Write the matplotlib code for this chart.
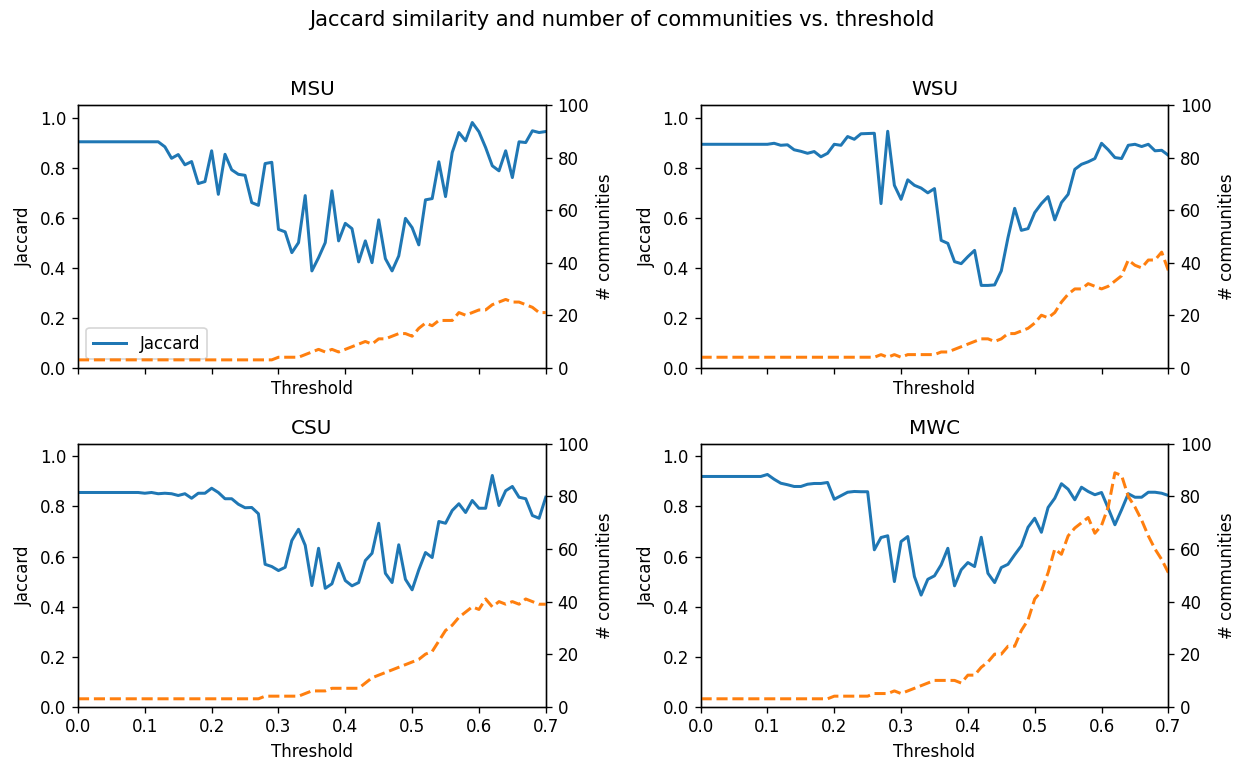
import numpy as np
import matplotlib
matplotlib.use("Agg")
import matplotlib.pyplot as plt

thresholds = np.linspace(0.0, 0.7, 71)

msu_jaccard = [0.903] * 13 + [
    0.883, 0.837, 0.852, 0.811, 0.824, 0.736, 0.744, 0.867, 0.693, 0.853,
    0.791, 0.773, 0.769, 0.660, 0.649, 0.816, 0.821, 0.553, 0.543, 0.460,
    0.500, 0.688, 0.387, 0.440, 0.500, 0.707, 0.507, 0.577, 0.556, 0.423,
    0.507, 0.420, 0.591, 0.436, 0.387, 0.447, 0.597, 0.560, 0.491, 0.671,
    0.676, 0.823, 0.684, 0.860, 0.940, 0.907, 0.980, 0.943, 0.880, 0.807,
    0.787, 0.867, 0.760, 0.903, 0.900, 0.947, 0.940, 0.944]
msu_comm = [3] * 30 + [
    4, 4, 4, 4, 5, 6, 7, 6, 7, 6, 7, 8, 9, 10, 9, 11, 11, 12, 13, 13,
    12, 15, 17, 16, 18, 18, 18, 21, 20, 21, 22, 22, 24, 25, 26, 25, 25, 24,
    23, 21, 21]

wsu_jaccard = [0.893] * 11 + [
    0.897, 0.889, 0.891, 0.871, 0.865, 0.857, 0.864, 0.843, 0.857, 0.893,
    0.889, 0.924, 0.913, 0.935, 0.936, 0.937, 0.656, 0.945, 0.729, 0.673,
    0.751, 0.729, 0.718, 0.699, 0.716, 0.509, 0.497, 0.424, 0.416, 0.444,
    0.469, 0.329, 0.329, 0.331, 0.387, 0.520, 0.637, 0.549, 0.556, 0.620,
    0.656, 0.684, 0.591, 0.660, 0.693, 0.793, 0.813, 0.823, 0.836, 0.897,
    0.871, 0.840, 0.836, 0.889, 0.893, 0.884, 0.893, 0.867, 0.869, 0.849]
wsu_comm = [4] * 27 + [
    5, 4, 5, 4, 5, 5, 5, 5, 5, 6, 6, 7, 8, 9, 10, 11, 11, 10, 11, 13,
    13, 14, 15, 17, 20, 19, 21, 25, 28, 30, 30, 32, 31, 30, 31, 33, 35, 41,
    39, 38, 41, 41, 44, 37]

csu_jaccard = [0.856] * 10 + [
    0.853, 0.856, 0.851, 0.853, 0.851, 0.844, 0.851, 0.833, 0.853, 0.853,
    0.873, 0.856, 0.831, 0.831, 0.809, 0.795, 0.796, 0.771, 0.569, 0.560,
    0.544, 0.557, 0.664, 0.709, 0.645, 0.484, 0.633, 0.473, 0.491, 0.573,
    0.504, 0.483, 0.496, 0.584, 0.613, 0.733, 0.533, 0.496, 0.647, 0.509,
    0.467, 0.547, 0.616, 0.596, 0.740, 0.733, 0.784, 0.811, 0.776, 0.824,
    0.793, 0.793, 0.924, 0.804, 0.863, 0.880, 0.837, 0.831, 0.764, 0.753,
    0.837]
csu_comm = [3] * 28 + [4] * 6 + [5, 6, 6, 6] + [7] * 5 + [
    9, 11, 12, 13, 14, 15, 16, 17, 18, 20, 21, 25, 29, 31, 34, 36, 38, 37,
    41, 38, 40, 39, 40, 39, 41, 40, 39, 39]

mwc_jaccard = [0.920] * 10 + [
    0.928, 0.909, 0.893, 0.887, 0.880, 0.880, 0.889, 0.892, 0.892, 0.896,
    0.829, 0.843, 0.857, 0.860, 0.859, 0.859, 0.627, 0.676, 0.683, 0.500,
    0.660, 0.680, 0.520, 0.446, 0.509, 0.523, 0.567, 0.633, 0.483, 0.547,
    0.576, 0.560, 0.677, 0.533, 0.496, 0.556, 0.569, 0.607, 0.643, 0.717,
    0.753, 0.697, 0.796, 0.833, 0.891, 0.869, 0.827, 0.877, 0.860, 0.847,
    0.856, 0.793, 0.727, 0.787, 0.851, 0.837, 0.837, 0.857, 0.857, 0.853,
    0.844]
mwc_comm = [3] * 20 + [4] * 6 + [
    5, 5, 5, 6, 5, 6, 7, 8, 9, 10, 10, 10, 10, 9, 12, 12, 15, 17, 20, 20,
    23, 23, 29, 33, 41, 44, 51, 60, 58, 65, 68, 70, 72, 66, 69, 76, 89, 88,
    80, 76, 71, 65, 60, 56, 51]

panel_names = ["MSU", "WSU", "CSU", "MWC"]
jaccard_series = [msu_jaccard, wsu_jaccard, csu_jaccard, mwc_jaccard]
comm_series = [msu_comm, wsu_comm, csu_comm, mwc_comm]

fig, axes = plt.subplots(2, 2, sharex=True, figsize=(1244 / 120, 762 / 120), dpi=120)
fig.subplots_adjust(left=0.0627, right=0.9392, top=0.8622, bottom=0.0726,
                    wspace=0.331, hspace=0.29)

for i, ax in enumerate(axes.flat):
    ax.plot(thresholds, jaccard_series[i], color="C0", lw=1.8, label="Jaccard")
    ax.set_ylim(0, 1.05)
    ax.set_xlim(0, 0.7)
    ax.set_ylabel("Jaccard")
    ax.set_xlabel("Threshold")
    ax.set_title(panel_names[i])
    ax2 = ax.twinx()
    ax2.plot(thresholds, comm_series[i], color="C1", lw=1.8, linestyle="--")
    ax2.set_ylim(0, 100)
    ax2.set_ylabel("# communities")
    if i == 0:
        ax.legend(loc="lower left")

fig.suptitle("Jaccard similarity and number of communities vs. threshold",
             y=0.987, fontsize=12.6)
fig.savefig("out.png", dpi=120)
